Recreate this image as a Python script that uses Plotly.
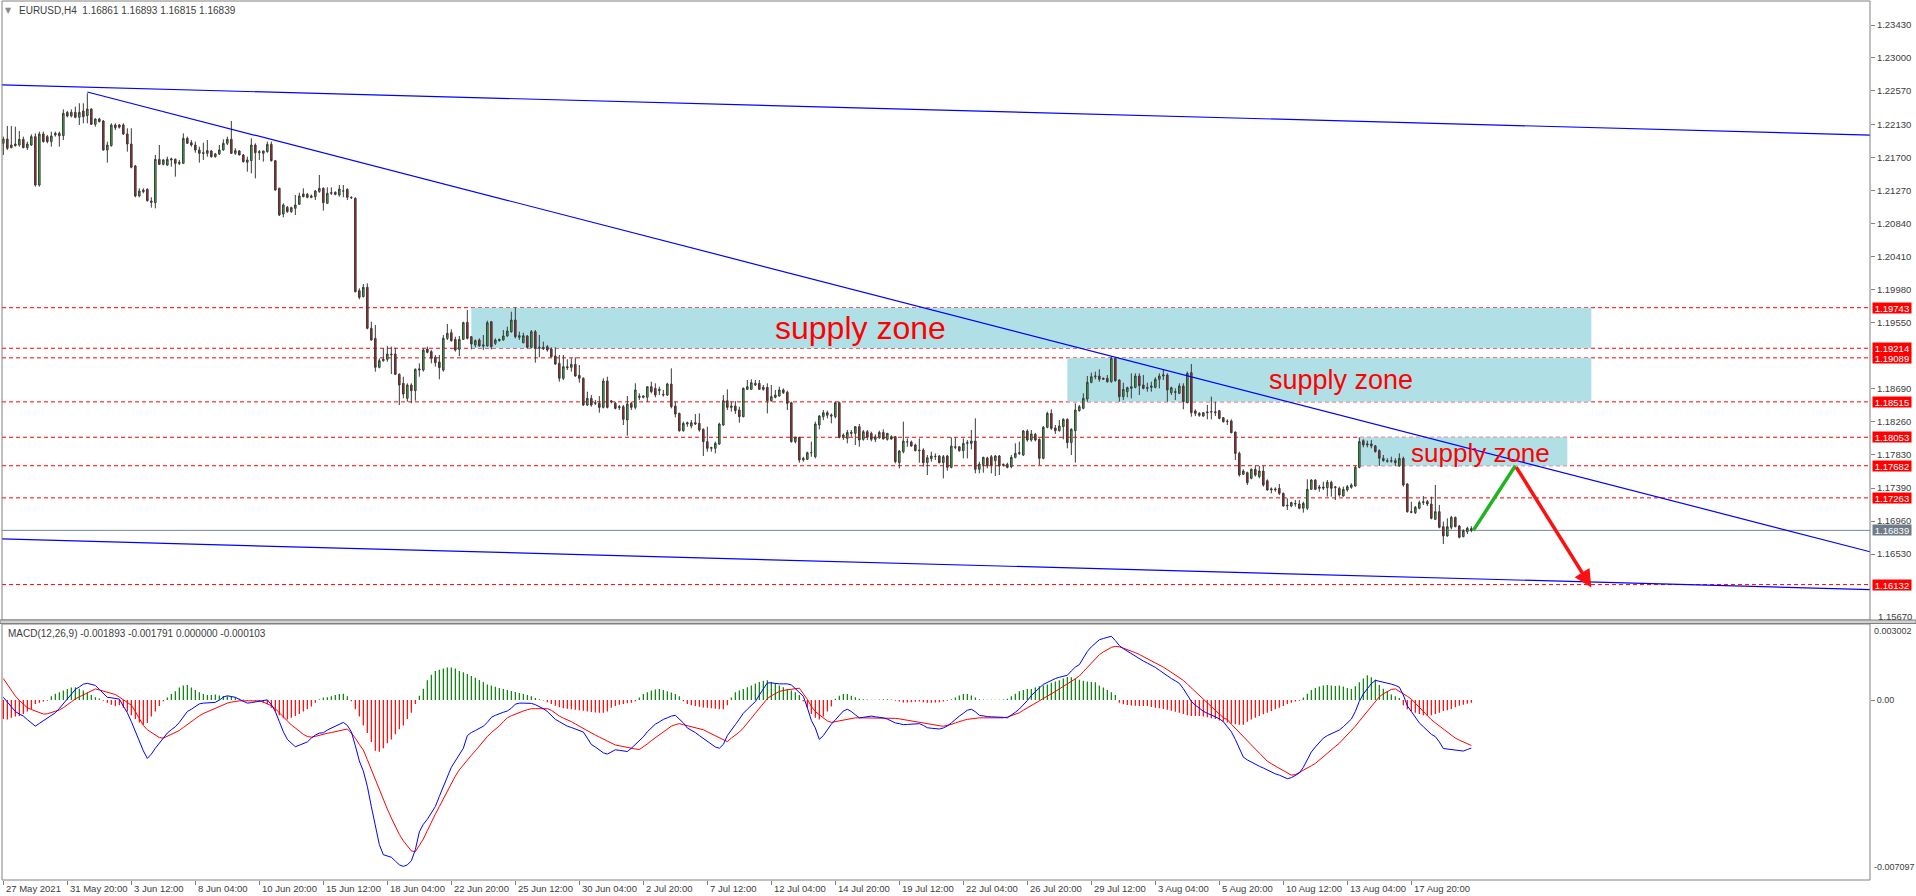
import plotly.graph_objects as go

# ---------------- data ----------------
opens = [
1.21887,1.21943,1.21830,1.21878,1.21865,1.21939,1.21830,1.21865,1.21974,1.21343,
1.22009,1.21974,1.21909,1.22017,1.21983,1.21987,1.22291,1.22243,1.22291,1.22226,
1.22309,1.22248,1.22335,1.22135,1.22204,1.22178,1.21800,1.21857,1.22126,1.22126,
1.22126,1.22009,1.21878,1.21591,1.21200,1.21278,1.21287,1.21135,1.21113,1.21678,
1.21613,1.21604,1.21670,1.21678,1.21639,1.21626,1.21952,1.21896,1.21865,1.21800,
1.21765,1.21756,1.21787,1.21713,1.21748,1.21800,1.21887,1.21939,1.21756,1.21787,
1.21735,1.21639,1.21661,1.21865,1.21765,1.21756,1.21778,1.21874,1.21661,1.21300,
1.20965,1.21052,1.20996,1.21039,1.21091,1.21226,1.21222,1.21200,1.21191,1.21257,
1.21300,1.21104,1.21235,1.21248,1.21213,1.21265,1.21287,1.21183,1.21170,1.19965,
1.19887,1.20009,1.19474,1.19343,1.18965,1.19052,1.19070,1.19139,1.19139,1.18874,
1.18757,1.18561,1.18735,1.18661,1.18930,1.18930,1.19204,1.19170,1.19096,1.19035,
1.18930,1.19343,1.19417,1.19330,1.19200,1.19330,1.19552,1.19365,1.19257,1.19322,
1.19243,1.19243,1.19561,1.19278,1.19313,1.19322,1.19374,1.19430,1.19583,1.19357,
1.19287,1.19374,1.19226,1.19430,1.19213,1.19226,1.19235,1.19204,1.19113,1.19017,
1.18822,1.18974,1.18965,1.19004,1.18861,1.18822,1.18474,1.18561,1.18496,1.18496,
1.18443,1.18787,1.18513,1.18496,1.18439,1.18452,1.18278,1.18496,1.18443,1.18591,
1.18574,1.18574,1.18713,1.18691,1.18661,1.18604,1.18604,1.18748,1.18461,1.18365,
1.18139,1.18226,1.18200,1.18243,1.18235,1.18157,1.17996,1.17909,1.17909,1.17965,
1.18213,1.18530,1.18443,1.18461,1.18409,1.18322,1.18678,1.18678,1.18735,1.18757,
1.18704,1.18704,1.18530,1.18574,1.18591,1.18670,1.18640,1.18504,1.17996,1.18052,
1.17757,1.17765,1.17852,1.17800,1.18213,1.18322,1.18340,1.18343,1.18322,1.18504,
1.18061,1.18039,1.18104,1.18104,1.18191,1.18026,1.18126,1.18104,1.18026,1.18060,
1.18117,1.18026,1.18061,1.18061,1.17722,1.17865,1.17992,1.17992,1.17952,1.17887,
1.17887,1.17722,1.17774,1.17800,1.17809,1.17722,1.17809,1.17661,1.17930,1.17930,
1.17878,1.17974,1.17974,1.18004,1.17635,1.17696,1.17783,1.17800,1.17748,1.17809,
1.17687,1.17700,1.17670,1.17791,1.17843,1.17822,1.18135,1.18017,1.18091,1.18026,
1.17778,1.18183,1.18365,1.18175,1.18139,1.18191,1.18287,1.17983,1.18139,1.18400,
1.18431,1.18552,1.18770,1.18843,1.18852,1.18809,1.18822,1.18778,1.19083,1.18800,
1.18583,1.18648,1.18691,1.18704,1.18852,1.18735,1.18691,1.18704,1.18704,1.18809,
1.18852,1.18865,1.18635,1.18648,1.18626,1.18722,1.18504,1.18896,1.18396,1.18365,
1.18330,1.18374,1.18383,1.18387,1.18400,1.18309,1.18265,1.18265,1.18122,1.17844,
1.17570,1.17592,1.17518,1.17635,1.17540,1.17613,1.17487,1.17366,1.17380,1.17387,
1.17322,1.17157,1.17157,1.17192,1.17183,1.17127,1.17127,1.17374,1.17496,1.17387,
1.17405,1.17396,1.17466,1.17396,1.17387,1.17287,1.17366,1.17400,1.17418,1.17661,
1.18009,1.17953,1.17966,1.17940,1.17879,1.17779,1.17748,1.17740,1.17748,1.17679,
1.17779,1.17444,1.17083,1.17070,1.17127,1.17201,1.17214,1.17183,1.16983,1.17083,
1.16887,1.16766,1.16879,1.17009,1.16896,1.16757,1.16822,1.16861]

highs = [
1.21974,1.22113,1.22113,1.22104,1.22048,1.21974,1.21909,1.22004,1.22017,1.22039,
1.22039,1.21996,1.22039,1.22039,1.22039,1.22330,1.22309,1.22330,1.22365,1.22409,
1.22409,1.22539,1.22343,1.22213,1.22220,1.22191,1.21909,1.22148,1.22148,1.22140,
1.22148,1.22083,1.22083,1.21604,1.21300,1.21300,1.21300,1.21183,1.21735,1.21865,
1.21680,1.21713,1.21700,1.21690,1.21670,1.22017,1.21974,1.21930,1.21909,1.21843,
1.21896,1.21930,1.21800,1.21760,1.21865,1.21939,1.21974,1.22178,1.21822,1.21800,
1.21748,1.21713,1.21952,1.21887,1.21800,1.21791,1.21909,1.21909,1.21670,1.21309,
1.21104,1.21070,1.21060,1.21213,1.21243,1.21300,1.21240,1.21220,1.21278,1.21474,
1.21313,1.21313,1.21313,1.21260,1.21343,1.21343,1.21300,1.21195,1.21183,1.19996,
1.20052,1.20061,1.19561,1.19517,1.19083,1.19213,1.19243,1.19235,1.19220,1.18887,
1.18843,1.18757,1.18757,1.18952,1.19017,1.19213,1.19235,1.19191,1.19126,1.19126,
1.19387,1.19531,1.19461,1.19365,1.19374,1.19561,1.19713,1.19374,1.19330,1.19343,
1.19387,1.19574,1.19570,1.19343,1.19340,1.19452,1.19496,1.19691,1.19748,1.19430,
1.19417,1.19387,1.19452,1.19452,1.19387,1.19300,1.19257,1.19226,1.19226,1.19126,
1.19126,1.19070,1.19083,1.19096,1.18996,1.18835,1.18648,1.18604,1.18539,1.18591,
1.18822,1.18843,1.18539,1.18517,1.18474,1.18474,1.18591,1.18517,1.18757,1.18626,
1.18600,1.18713,1.18778,1.18757,1.18713,1.18670,1.18765,1.18952,1.18517,1.18374,
1.18257,1.18257,1.18278,1.18357,1.18365,1.18170,1.18191,1.17930,1.17996,1.18243,
1.18604,1.18678,1.18517,1.18526,1.18452,1.18704,1.18800,1.18809,1.18800,1.18800,
1.18735,1.18757,1.18735,1.18670,1.18713,1.18691,1.18661,1.18517,1.18061,1.18061,
1.17800,1.17865,1.17996,1.18257,1.18343,1.18409,1.18400,1.18365,1.18517,1.18517,
1.18104,1.18148,1.18148,1.18200,1.18226,1.18148,1.18148,1.18126,1.18090,1.18140,
1.18157,1.18110,1.18080,1.18070,1.17887,1.18257,1.18039,1.18010,1.17970,1.18039,
1.17909,1.17822,1.17865,1.17843,1.17822,1.17822,1.17822,1.18052,1.18052,1.17939,
1.18039,1.18017,1.18148,1.18300,1.17735,1.17800,1.17800,1.17822,1.17822,1.17822,
1.17710,1.17722,1.17822,1.17974,1.17996,1.18148,1.18157,1.18148,1.18110,1.18039,
1.18200,1.18387,1.18418,1.18213,1.18278,1.18300,1.18300,1.18170,1.18496,1.18474,
1.18626,1.18852,1.18896,1.18909,1.18939,1.18830,1.18865,1.19105,1.19096,1.18809,
1.18765,1.18713,1.18887,1.18887,1.18887,1.18865,1.18765,1.18778,1.18835,1.18887,
1.18939,1.18887,1.18713,1.18691,1.18757,1.18757,1.18909,1.19009,1.18418,1.18380,
1.18380,1.18474,1.18583,1.18517,1.18409,1.18313,1.18287,1.18287,1.18126,1.17866,
1.17635,1.17605,1.17648,1.17679,1.17679,1.17679,1.17505,1.17400,1.17400,1.17444,
1.17331,1.17257,1.17214,1.17235,1.17235,1.17214,1.17505,1.17505,1.17505,1.17431,
1.17474,1.17496,1.17487,1.17418,1.17409,1.17409,1.17431,1.17453,1.17679,1.18053,
1.18027,1.18009,1.18018,1.17953,1.17896,1.17822,1.17779,1.17800,1.17779,1.17844,
1.17800,1.17453,1.17214,1.17157,1.17227,1.17287,1.17235,1.17279,1.17431,1.17170,
1.16953,1.16996,1.17027,1.17018,1.16909,1.16853,1.16887,1.16893]

lows = [
1.21735,1.21800,1.21822,1.21843,1.21843,1.21822,1.21800,1.21852,1.21322,1.21322,
1.21896,1.21887,1.21843,1.21974,1.21843,1.21930,1.22226,1.22226,1.22213,1.22126,
1.22148,1.22148,1.22126,1.22104,1.22160,1.21791,1.21635,1.21843,1.22061,1.22080,
1.21996,1.21778,1.21561,1.21183,1.21183,1.21235,1.21126,1.21048,1.21039,1.21604,
1.21600,1.21591,1.21583,1.21452,1.21604,1.21617,1.21878,1.21843,1.21765,1.21635,
1.21670,1.21713,1.21700,1.21700,1.21735,1.21791,1.21865,1.21748,1.21735,1.21730,
1.21635,1.21517,1.21496,1.21430,1.21670,1.21648,1.21765,1.21648,1.21270,1.20939,
1.20922,1.20980,1.20980,1.20952,1.21083,1.21183,1.21170,1.21170,1.21148,1.21243,
1.21009,1.21096,1.21213,1.21210,1.21191,1.21183,1.21148,1.21160,1.19943,1.19852,
1.19878,1.19461,1.19313,1.18909,1.18952,1.19039,1.19039,1.18878,1.18865,1.18474,
1.18561,1.18517,1.18496,1.18530,1.18843,1.18909,1.19148,1.19017,1.18974,1.18809,
1.18909,1.19322,1.19300,1.19170,1.19113,1.19322,1.19330,1.19200,1.19226,1.19235,
1.19191,1.19235,1.19200,1.19257,1.19300,1.19313,1.19365,1.19417,1.19343,1.19322,
1.19278,1.19213,1.19213,1.19026,1.19096,1.19191,1.19170,1.19096,1.18996,1.18778,
1.18800,1.18930,1.18909,1.18843,1.18765,1.18461,1.18461,1.18452,1.18474,1.18374,
1.18430,1.18430,1.18496,1.18417,1.18409,1.18213,1.18074,1.18409,1.18417,1.18539,
1.18560,1.18517,1.18626,1.18574,1.18604,1.18583,1.18591,1.18430,1.18313,1.18126,
1.18126,1.18191,1.18170,1.18213,1.18126,1.17809,1.17865,1.17865,1.17843,1.17952,
1.18200,1.18409,1.18387,1.18357,1.18243,1.18313,1.18670,1.18670,1.18722,1.18670,
1.18661,1.18365,1.18517,1.18561,1.18583,1.18617,1.18409,1.17983,1.17974,1.17722,
1.17735,1.17757,1.17800,1.17778,1.18157,1.18278,1.18300,1.18235,1.18300,1.18039,
1.18017,1.17974,1.18061,1.17952,1.17930,1.18009,1.18017,1.18000,1.17990,1.18030,
1.18026,1.18010,1.18020,1.17713,1.17648,1.17843,1.17930,1.17930,1.17870,1.17722,
1.17670,1.17561,1.17735,1.17757,1.17713,1.17517,1.17617,1.17648,1.17896,1.17865,
1.17778,1.17778,1.17896,1.17583,1.17583,1.17591,1.17648,1.17583,1.17548,1.17561,
1.17670,1.17648,1.17648,1.17778,1.17822,1.17809,1.17996,1.17996,1.18000,1.17691,
1.17765,1.18170,1.18148,1.18096,1.18126,1.18026,1.17909,1.17822,1.17722,1.18387,
1.18418,1.18517,1.18757,1.18809,1.18778,1.18800,1.18765,1.18765,1.18778,1.18517,
1.18539,1.18574,1.18561,1.18691,1.18604,1.18678,1.18648,1.18648,1.18691,1.18691,
1.18800,1.18517,1.18604,1.18539,1.18617,1.18418,1.18496,1.18322,1.18330,1.18320,
1.18320,1.18287,1.18287,1.18330,1.18287,1.18244,1.18213,1.18104,1.17757,1.17540,
1.17561,1.17431,1.17505,1.17540,1.17518,1.17409,1.17357,1.17322,1.17344,1.17300,
1.17148,1.17105,1.17140,1.17148,1.17114,1.17070,1.17105,1.17366,1.17366,1.17344,
1.17366,1.17279,1.17279,1.17235,1.17279,1.17279,1.17344,1.17383,1.17409,1.17648,
1.17922,1.17922,1.17909,1.17853,1.17679,1.17735,1.17722,1.17722,1.17679,1.17670,
1.17409,1.17070,1.17062,1.17053,1.17114,1.17170,1.17157,1.16983,1.16974,1.16866,
1.16661,1.16757,1.16853,1.16879,1.16735,1.16748,1.16792,1.16815]

closes = [
1.21943,1.21822,1.21865,1.21857,1.21939,1.21830,1.21878,1.21974,1.21343,1.22009,
1.21909,1.21909,1.21983,1.21996,1.22017,1.22278,1.22243,1.22291,1.22226,1.22291,
1.22235,1.22335,1.22135,1.22204,1.22170,1.21800,1.21865,1.22126,1.22091,1.22096,
1.22009,1.21878,1.21574,1.21200,1.21265,1.21257,1.21139,1.21117,1.21678,1.21613,
1.21670,1.21678,1.21683,1.21626,1.21626,1.21952,1.21887,1.21865,1.21800,1.21756,
1.21756,1.21791,1.21713,1.21748,1.21800,1.21887,1.21939,1.21756,1.21791,1.21735,
1.21648,1.21670,1.21865,1.21765,1.21778,1.21787,1.21874,1.21661,1.21278,1.20952,
1.21083,1.20996,1.21048,1.21083,1.21200,1.21191,1.21183,1.21183,1.21265,1.21300,
1.21113,1.21235,1.21243,1.21222,1.21291,1.21265,1.21183,1.21178,1.19952,1.19878,
1.20009,1.19474,1.19322,1.18965,1.19052,1.19070,1.19139,1.19130,1.18874,1.18735,
1.18617,1.18735,1.18661,1.18939,1.18943,1.19191,1.19161,1.19083,1.19026,1.18961,
1.19343,1.19409,1.19313,1.19191,1.19330,1.19548,1.19343,1.19270,1.19313,1.19243,
1.19257,1.19548,1.19235,1.19322,1.19330,1.19374,1.19439,1.19583,1.19365,1.19378,
1.19378,1.19226,1.19430,1.19213,1.19226,1.19213,1.19191,1.19104,1.19009,1.18822,
1.18974,1.18961,1.19004,1.18852,1.18822,1.18474,1.18561,1.18474,1.18504,1.18443,
1.18787,1.18443,1.18526,1.18430,1.18452,1.18287,1.18487,1.18443,1.18670,1.18574,
1.18591,1.18713,1.18648,1.18604,1.18678,1.18612,1.18748,1.18452,1.18357,1.18139,
1.18235,1.18243,1.18243,1.18226,1.18148,1.17996,1.17909,1.17918,1.17974,1.18226,
1.18530,1.18443,1.18461,1.18400,1.18322,1.18691,1.18713,1.18765,1.18757,1.18678,
1.18678,1.18530,1.18583,1.18604,1.18670,1.18635,1.18496,1.17996,1.18052,1.17757,
1.17778,1.17852,1.17852,1.18226,1.18330,1.18374,1.18374,1.18330,1.18504,1.18052,
1.18083,1.18117,1.18117,1.18191,1.18017,1.18126,1.18052,1.18026,1.18060,1.18117,
1.18031,1.18104,1.18031,1.17735,1.17874,1.18004,1.17992,1.17939,1.17878,1.17878,
1.17722,1.17787,1.17809,1.17805,1.17722,1.17800,1.17661,1.17939,1.17922,1.17878,
1.17974,1.17983,1.18004,1.17635,1.17704,1.17791,1.17678,1.17691,1.17809,1.17678,
1.17700,1.17661,1.17791,1.17843,1.17852,1.18135,1.18017,1.18096,1.18017,1.17778,
1.18183,1.18365,1.18170,1.18139,1.18200,1.18287,1.17983,1.18157,1.18409,1.18452,
1.18561,1.18770,1.18843,1.18852,1.18809,1.18822,1.18778,1.19083,1.18791,1.18583,
1.18678,1.18700,1.18713,1.18852,1.18726,1.18691,1.18700,1.18722,1.18809,1.18852,
1.18865,1.18670,1.18700,1.18640,1.18722,1.18517,1.18887,1.18374,1.18365,1.18340,
1.18374,1.18383,1.18387,1.18374,1.18300,1.18257,1.18260,1.18113,1.17843,1.17561,
1.17613,1.17461,1.17635,1.17561,1.17613,1.17431,1.17366,1.17380,1.17370,1.17322,
1.17157,1.17165,1.17201,1.17185,1.17127,1.17192,1.17374,1.17496,1.17374,1.17405,
1.17390,1.17466,1.17387,1.17405,1.17300,1.17374,1.17409,1.17431,1.17661,1.17996,
1.17953,1.17966,1.17940,1.17866,1.17779,1.17748,1.17740,1.17748,1.17722,1.17779,
1.17431,1.17083,1.17075,1.17140,1.17201,1.17210,1.17183,1.16996,1.17083,1.16879,
1.16766,1.16887,1.17009,1.16887,1.16748,1.16835,1.16866,1.16839]

# MACD(12,26,9) values, in units of 0.0001
macd_main_e4 = [
1.1,-0.7,-2.5,-4.5,-5.5,-6.3,-7.7,-9.0,-10.3,-9.2,
-8.1,-6.9,-5.8,-5.0,-3.3,-1.5,0.5,2.2,4.2,5.2,
6.3,6.6,6.2,5.8,4.2,2.6,1.1,0.9,0.6,0.4,
-2.4,-5.0,-8.5,-12.5,-16.5,-20.0,-23.0,-21.3,-19.0,-17.0,
-15.0,-13.0,-11.7,-10.5,-8.8,-6.5,-4.5,-3.6,-2.7,-1.5,
-1.2,-1.1,-1.0,-0.9,0.0,1.2,1.7,1.5,1.1,0.3,
-0.6,-1.2,-1.0,-0.7,-0.4,-0.1,0.1,-1.8,-4.5,-8.5,
-12.5,-15.5,-17.0,-18.4,-17.8,-17.0,-16.5,-15.0,-13.8,-13.0,
-12.9,-11.8,-11.0,-10.1,-9.5,-8.8,-10.0,-12.5,-18.0,-24.0,
-28.0,-34.0,-42.0,-49.0,-57.0,-61.0,-61.5,-62.0,-63.5,-65.0,
-65.6,-65.0,-63.4,-59.0,-52.0,-49.0,-47.0,-44.5,-42.0,-38.0,
-34.0,-30.0,-26.5,-24.0,-21.5,-19.0,-14.0,-12.8,-12.0,-11.0,
-10.3,-8.8,-6.8,-6.0,-5.3,-4.8,-4.3,-3.2,-1.6,-1.2,
-1.2,-1.2,-1.3,-1.8,-2.5,-3.4,-4.5,-6.0,-7.6,-8.5,
-9.4,-10.3,-10.8,-11.4,-11.9,-12.6,-15.0,-17.5,-18.5,-19.8,
-20.8,-21.3,-20.5,-19.6,-19.8,-20.2,-20.3,-19.0,-17.6,-16.2,
-14.5,-12.5,-10.8,-9.5,-8.6,-7.6,-7.0,-6.3,-6.0,-7.5,
-9.0,-11.0,-11.8,-12.8,-14.0,-15.2,-16.4,-17.5,-18.5,-19.0,
-17.5,-14.0,-12.0,-9.7,-7.5,-5.2,-3.6,-2.2,-0.6,2.0,
4.4,6.8,6.8,6.5,6.4,6.4,6.4,6.0,4.5,3.0,
1.5,-3.0,-8.0,-11.0,-15.5,-14.0,-11.5,-9.5,-7.8,-6.0,
-4.3,-3.6,-4.5,-5.8,-7.0,-6.8,-6.5,-6.3,-6.6,-6.8,
-7.0,-7.5,-8.3,-9.0,-9.3,-9.7,-9.6,-9.5,-9.4,-9.3,
-10.0,-10.9,-11.1,-11.3,-11.4,-11.0,-10.2,-9.0,-7.6,-6.3,
-5.2,-4.0,-3.6,-4.6,-6.0,-6.4,-6.5,-6.6,-6.6,-6.7,
-6.8,-7.0,-6.0,-4.8,-3.5,-2.0,-0.2,1.8,3.5,4.8,
6.2,7.0,7.8,8.5,9.0,9.5,9.8,11.5,13.0,14.0,
16.5,19.2,21.0,22.5,23.8,24.3,24.8,25.2,23.5,21.5,
20.3,19.3,18.2,17.2,16.3,15.4,14.6,13.8,12.9,11.8,
10.6,9.4,8.5,7.6,6.6,4.5,2.1,-0.5,-2.0,-3.2,
-4.4,-5.2,-5.8,-6.6,-7.4,-8.5,-10.5,-12.5,-15.5,-19.0,
-22.5,-23.6,-24.5,-25.3,-26.1,-26.8,-27.6,-28.4,-29.1,-29.6,
-30.2,-31.0,-30.6,-29.8,-28.8,-26.5,-23.5,-20.5,-18.5,-16.8,
-15.0,-14.0,-13.3,-12.5,-11.8,-10.5,-9.0,-7.5,-4.5,-0.5,
2.4,4.5,6.5,7.8,7.5,7.0,6.7,6.3,5.8,5.1,
2.0,-2.3,-4.5,-6.8,-9.0,-10.5,-12.0,-13.5,-14.4,-16.5,
-19.1,-19.3,-19.5,-19.6,-20.0,-20.1,-19.5,-18.93]

macd_signal_e4 = [
8.5,6.2,3.9,1.6,-0.1,-1.6,-3.0,-3.7,-4.4,-5.0,
-5.5,-5.4,-4.9,-4.4,-3.9,-3.0,-2.0,-0.7,0.5,1.3,
2.2,3.0,3.8,4.4,4.0,3.6,3.2,2.8,2.2,1.2,
0.2,-0.9,-2.0,-4.5,-7.5,-10.0,-11.7,-12.8,-13.8,-14.8,
-15.0,-14.3,-13.5,-12.8,-12.0,-10.8,-9.6,-8.4,-7.2,-6.2,
-5.3,-4.6,-3.8,-3.0,-2.4,-1.8,-1.2,-0.8,-0.4,-0.3,
-0.3,-0.3,-0.3,-0.3,-0.3,-0.8,-1.4,-2.2,-3.4,-5.0,
-6.7,-8.3,-9.8,-11.0,-12.3,-13.5,-14.4,-14.6,-14.3,-14.0,
-13.6,-13.1,-12.8,-12.4,-12.1,-11.7,-11.4,-13.0,-15.0,-17.5,
-19.7,-23.5,-27.5,-31.5,-35.5,-39.5,-43.0,-46.5,-50.0,-53.0,
-55.5,-57.5,-59.5,-59.8,-57.5,-54.8,-51.5,-48.0,-45.0,-42.0,
-39.0,-36.0,-32.5,-30.0,-27.5,-25.5,-23.8,-21.8,-20.0,-18.0,
-16.2,-14.4,-12.8,-11.5,-10.2,-8.5,-7.0,-6.2,-5.5,-4.9,
-4.3,-3.8,-3.4,-3.4,-3.4,-3.4,-3.4,-4.0,-5.3,-6.3,
-7.1,-7.7,-8.5,-9.4,-10.3,-11.2,-12.3,-13.0,-13.8,-14.6,
-15.4,-16.2,-16.9,-17.7,-18.0,-18.4,-18.7,-19.0,-19.3,-19.5,
-18.5,-17.3,-16.0,-14.8,-13.6,-12.4,-11.2,-10.3,-9.7,-9.3,
-9.7,-10.1,-10.5,-11.0,-11.4,-11.7,-12.5,-13.3,-14.0,-14.8,
-15.6,-16.4,-15.0,-13.8,-12.6,-11.0,-9.0,-7.0,-5.0,-3.0,
-1.0,0.6,1.7,2.7,3.4,3.8,4.1,4.3,4.5,4.7,
2.5,0.3,-2.5,-4.5,-5.8,-7.0,-8.2,-8.8,-8.5,-8.1,
-7.7,-7.4,-7.0,-7.0,-7.0,-7.0,-7.0,-7.0,-7.0,-7.0,
-7.0,-7.0,-7.0,-7.2,-7.4,-7.7,-7.9,-8.2,-8.5,-8.7,
-9.0,-9.3,-9.5,-9.8,-10.1,-10.3,-10.0,-9.6,-9.0,-8.4,
-8.0,-7.6,-7.3,-7.0,-7.0,-7.0,-7.0,-7.0,-7.0,-7.0,
-7.0,-6.7,-6.1,-5.6,-5.0,-4.0,-3.1,-2.0,-1.2,-0.4,
0.4,1.4,2.4,3.4,4.4,5.5,6.4,7.4,8.4,9.5,
11.2,12.8,14.5,16.1,17.9,19.0,20.0,20.8,21.2,21.0,
20.5,20.0,19.2,18.7,18.0,17.2,16.5,15.7,14.8,14.0,
13.0,12.0,11.0,10.0,9.0,7.8,6.3,4.8,3.2,1.6,
0.4,-1.0,-2.5,-4.0,-5.5,-6.9,-7.7,-9.5,-11.2,-12.9,
-14.5,-15.9,-17.6,-19.3,-20.9,-22.6,-24.1,-25.1,-26.0,-27.0,
-28.0,-28.9,-29.6,-29.4,-28.6,-27.7,-26.8,-25.9,-25.0,-23.6,
-22.3,-21.0,-19.6,-18.3,-17.0,-15.4,-13.7,-12.0,-10.3,-8.3,
-6.3,-4.3,-2.3,-0.3,1.3,2.5,3.4,4.2,4.4,3.5,
2.5,1.5,0.4,-1.3,-2.9,-4.5,-6.1,-7.7,-9.0,-10.2,
-11.5,-12.8,-14.0,-15.0,-15.8,-16.5,-17.2,-17.91]

macd_hist_e4 = [
-7.5,-7.7,-7.0,-6.5,-6.3,-5.5,-4.5,-3.5,-1.5,-1.0,
-0.6,-0.3,1.5,2.5,3.1,3.8,4.4,5.0,5.1,4.5,
3.8,3.0,2.0,1.1,0.6,-0.3,-1.0,-1.8,-2.3,-2.0,
-3.0,-4.5,-6.0,-7.5,-8.8,-9.7,-9.0,-6.5,-4.5,-2.3,
-0.5,1.0,2.4,3.5,5.0,5.8,6.0,5.0,4.0,3.1,
2.4,2.0,2.0,2.2,1.8,1.6,1.5,1.2,1.1,0.5,
0.2,-0.3,-0.3,-0.3,-0.5,-1.0,-1.5,-3.0,-4.5,-6.0,
-7.2,-7.7,-7.0,-6.3,-5.5,-4.5,-3.5,-2.5,-1.0,0.3,
1.0,1.1,1.5,2.0,2.4,2.5,1.5,-0.5,-3.6,-6.5,
-10.0,-13.0,-16.5,-20.0,-20.4,-19.0,-17.0,-15.5,-13.5,-11.5,
-10.0,-7.5,-5.0,-1.5,1.7,4.5,7.8,10.0,11.5,12.0,
12.5,12.9,12.9,12.5,11.5,11.0,10.3,9.5,8.8,7.9,
7.1,6.2,5.8,5.3,4.8,4.4,4.0,3.6,3.2,2.8,
2.4,2.0,1.5,0.8,0.3,-0.2,-0.8,-1.5,-2.2,-2.8,
-3.2,-3.4,-3.6,-3.8,-4.0,-4.2,-4.5,-4.7,-4.9,-5.0,
-5.0,-4.5,-3.0,-2.3,-1.8,-1.5,-1.2,-1.0,-0.5,1.0,
2.4,3.1,3.8,4.2,4.4,4.0,3.5,3.0,2.4,1.5,
-0.5,-1.5,-2.0,-2.3,-2.6,-2.9,-3.0,-3.2,-3.4,-3.6,
-3.6,-2.0,1.0,3.1,3.8,4.4,5.1,5.8,6.5,7.1,
7.6,7.8,7.1,6.4,5.8,5.1,4.4,3.8,3.1,2.0,
-0.5,-3.0,-5.5,-7.0,-7.7,-6.5,-4.5,-2.5,0.5,1.7,
2.4,2.4,1.7,1.1,0.5,0.3,0.2,0.1,0.1,0.2,
0.3,0.3,0.2,-0.3,-0.6,-0.9,-0.9,-0.8,-0.7,-0.6,
-0.8,-1.0,-1.0,-0.9,-0.8,-0.6,-0.3,0.3,1.0,1.8,
2.4,2.4,1.8,1.0,0.3,0.2,0.1,0.1,0.1,0.1,
0.2,0.5,1.5,2.5,3.5,4.0,4.4,4.4,5.0,5.5,
5.8,6.2,6.8,7.3,7.8,8.5,9.1,9.0,8.5,8.0,
7.6,7.3,7.1,7.0,5.8,5.0,4.0,3.1,2.0,-1.0,
-1.6,-1.9,-2.1,-2.2,-2.3,-2.3,-2.3,-2.7,-3.0,-3.2,
-3.5,-3.8,-4.2,-4.6,-5.0,-5.5,-6.0,-6.3,-6.3,-6.3,
-6.5,-6.8,-7.2,-7.5,-8.0,-8.4,-8.8,-9.2,-9.5,-9.7,
-9.7,-8.5,-7.7,-7.0,-6.3,-5.6,-5.0,-4.3,-3.6,-3.0,
-2.3,-1.5,-1.0,-0.6,-0.3,1.0,2.5,4.0,4.8,5.4,
5.8,6.0,5.8,5.6,5.8,5.4,4.8,4.4,5.5,7.0,
8.5,9.8,9.0,8.0,6.0,4.5,3.3,2.2,1.5,0.8,
-2.0,-3.6,-4.5,-5.0,-5.5,-6.0,-6.3,-6.0,-5.5,-5.0,
-4.3,-4.0,-3.6,-2.8,-2.2,-1.8,-1.4,-1.03]

n_bars = len(closes)
for arr in (opens, highs, lows, macd_main_e4, macd_signal_e4, macd_hist_e4):
    assert len(arr) == n_bars, len(arr)

bars = list(range(n_bars))
macd_main = [v * 1e-4 for v in macd_main_e4]
macd_signal = [v * 1e-4 for v in macd_signal_e4]
macd_hist = [v * 1e-4 for v in macd_hist_e4]

tick_bars = list(range(0, 353, 16))
tick_labels = ["27 May 2021", "31 May 20:00", "3 Jun 12:00", "8 Jun 04:00", "10 Jun 20:00",
               "15 Jun 12:00", "18 Jun 04:00", "22 Jun 20:00", "25 Jun 12:00", "30 Jun 04:00",
               "2 Jul 20:00", "7 Jul 12:00", "12 Jul 04:00", "14 Jul 20:00", "19 Jul 12:00",
               "22 Jul 04:00", "26 Jul 20:00", "29 Jul 12:00", "3 Aug 04:00", "5 Aug 20:00",
               "10 Aug 12:00", "13 Aug 04:00", "17 Aug 20:00"]

price_ticks = [1.23430, 1.23000, 1.22570, 1.22130, 1.21700, 1.21270, 1.20840, 1.20410,
               1.19980, 1.19550, 1.18690, 1.18260, 1.17830, 1.17390, 1.16960, 1.16530, 1.15670]
level_prices = [1.19743, 1.19089, 1.19214, 1.18515, 1.18053, 1.17682, 1.17263, 1.16132]
current_price = 1.16839

zone_start_bar = [117, 266, 339]
zone_end_bar = [397, 397, 391]
zone_low = [1.19214, 1.18515, 1.17682]
zone_high = [1.19743, 1.19089, 1.18053]
zone_text_bar = [192.3, 316, 351.5]
zone_text_price = [1.19478, 1.18800, 1.17850]
zone_text = ["supply zone", "supply zone", "supply zone"]

upper_channel_bars = [-0.34, 466.67]
upper_channel_prices = [1.22648, 1.21995]
trend_bars = [21, 466.67]
trend_prices = [1.22556, 1.16560]
lower_channel_bars = [-0.34, 466.67]
lower_channel_prices = [1.16727, 1.16067]

arrow_bars = [367.5, 378, 397]
arrow_prices = [1.16839, 1.17682, 1.16095]

header_text = "EURUSD,H4  1.16861 1.16893 1.16815 1.16839"
macd_header = "MACD(12,26,9) -0.001893 -0.001791 0.000000 -0.000103"
macd_top_label, macd_bottom_label = 0.003002, -0.007097

# ---------------- geometry & style ----------------
W, H = 1916, 896
ML, MR, MT, MB = 2, 46, 1, 16
PW, PH = W - ML - MR, H - MT - MB


def py(y):  # pixel row -> paper y
    return (H - MB - y) / PH


def px(x):  # pixel column -> paper x
    return (x - ML) / PW


XR = [-0.333, 466.667]
PRICE_RANGE = [1.15670, 1.23743]
FRAME = "#808080"
TXT = "#3c3c3c"
FONT = "Liberation Sans"
BULL, BEAR, WICK = "#32cd32", "#d41c1c", "#3a3a3a"
BID = "#778899"

fig = go.Figure()

fig.add_trace(go.Candlestick(
    x=bars, open=opens, high=highs, low=lows, close=closes,
    increasing=dict(fillcolor=BULL, line=dict(color=WICK, width=1)),
    decreasing=dict(fillcolor=BEAR, line=dict(color=WICK, width=1)),
    whiskerwidth=0, xaxis="x", yaxis="y", hoverinfo="skip", showlegend=False))

for bx, pr in ((upper_channel_bars, upper_channel_prices),
               (trend_bars, trend_prices),
               (lower_channel_bars, lower_channel_prices)):
    fig.add_trace(go.Scatter(x=bx, y=pr, mode="lines", line=dict(color="#0000ff", width=1.2),
                             xaxis="x", yaxis="y", hoverinfo="skip", showlegend=False))

fig.add_trace(go.Scatter(x=arrow_bars[:2], y=arrow_prices[:2], mode="lines",
                         line=dict(color="#22b322", width=3.5), xaxis="x", yaxis="y",
                         hoverinfo="skip", showlegend=False))

# MACD pane
fig.add_trace(go.Bar(x=bars, y=macd_hist, width=0.3,
                     marker=dict(color=["#008000" if v >= 0 else "#ff0000" for v in macd_hist],
                                 line=dict(width=0)),
                     xaxis="x2", yaxis="y2", hoverinfo="skip", showlegend=False))
fig.add_trace(go.Scatter(x=bars, y=macd_signal, mode="lines", line=dict(color="#ff0000", width=1),
                         xaxis="x2", yaxis="y2", hoverinfo="skip", showlegend=False))
fig.add_trace(go.Scatter(x=bars, y=macd_main, mode="lines", line=dict(color="#0000ff", width=1),
                         xaxis="x2", yaxis="y2", hoverinfo="skip", showlegend=False))

shapes = []
for x0, x1, lo, hi in zip(zone_start_bar, zone_end_bar, zone_low, zone_high):
    shapes.append(dict(type="rect", xref="x", yref="y", x0=x0, x1=x1, y0=lo, y1=hi,
                       fillcolor="#b0e0e6", line=dict(width=0), layer="below"))
for lv in level_prices:
    shapes.append(dict(type="line", xref="paper", yref="y", x0=0, x1=1, y0=lv, y1=lv,
                       line=dict(color="#ff0000", width=1, dash="4px,3px"), layer="below"))
shapes.append(dict(type="line", xref="paper", yref="y", x0=0, x1=1, y0=current_price, y1=current_price,
                   line=dict(color=BID, width=1), layer="below"))
# pane frames
shapes.append(dict(type="rect", xref="paper", yref="paper", x0=0, x1=1, y0=py(620), y1=1,
                   line=dict(color=FRAME, width=1), fillcolor="rgba(0,0,0,0)"))
shapes.append(dict(type="rect", xref="paper", yref="paper", x0=0, x1=1, y0=0, y1=py(624),
                   line=dict(color=FRAME, width=1), fillcolor="rgba(0,0,0,0)"))
shapes.append(dict(type="rect", xref="paper", yref="paper", x0=px(0), x1=px(W), y0=py(623.5), y1=py(620),
                   line=dict(color=FRAME, width=1), fillcolor="#d0d0d0"))

ann = []
ann.append(dict(xref="paper", yref="paper", x=px(3), y=py(11), xanchor="left", yanchor="middle",
                text="▼", showarrow=False, font=dict(family="DejaVu Sans", size=8, color="#8c8c8c")))
ann.append(dict(xref="paper", yref="paper", x=px(17), y=py(11), xanchor="left", yanchor="middle",
                text=header_text, showarrow=False, font=dict(family=FONT, size=10, color=TXT)))
ann.append(dict(xref="paper", yref="paper", x=px(6), y=py(633), xanchor="left", yanchor="middle",
                text=macd_header, showarrow=False, font=dict(family=FONT, size=10, color=TXT)))
for txt, tb, tp, fs in zip(zone_text, zone_text_bar, zone_text_price, [32, 27, 26]):
    ann.append(dict(xref="x", yref="y", x=tb, y=tp, xanchor="left", yanchor="middle",
                    text=txt, showarrow=False, font=dict(family=FONT, size=fs, color="#ff0000")))
for lv in level_prices:
    ann.append(dict(xref="paper", yref="y", x=1, y=lv, xanchor="left", yanchor="middle", xshift=2,
                    text=f"{lv:.5f}", showarrow=False, bgcolor="#ff0000", borderpad=0, width=38, height=10,
                    font=dict(family=FONT, size=9.5, color="#ffffff")))
ann.append(dict(xref="paper", yref="y", x=1, y=current_price, xanchor="left", yanchor="middle", xshift=2,
                text=f"{current_price:.5f}", showarrow=False, bgcolor="#6f7b87", borderpad=0, width=38, height=10,
                font=dict(family=FONT, size=9.5, color="#ffffff")))
# bottom price-scale label sits just above the pane separator
ann.append(dict(xref="paper", yref="y", x=1, y=price_ticks[-1], xanchor="left", yanchor="middle",
                xshift=6, yshift=4, text=f"{price_ticks[-1]:.5f}", showarrow=False,
                font=dict(family=FONT, size=9.5, color=TXT)))
ann.append(dict(xref="paper", yref="y2", x=1, y=macd_top_label, xanchor="left", yanchor="top", xshift=2,
                text=f"{macd_top_label:.6f}", showarrow=False, font=dict(family=FONT, size=9, color=TXT)))
ann.append(dict(xref="paper", yref="y2", x=1, y=macd_bottom_label, xanchor="left", yanchor="bottom",
                xshift=2, yshift=6, text=f"{macd_bottom_label:.6f}", showarrow=False,
                font=dict(family=FONT, size=9, color=TXT)))
for tb, tl in zip(tick_bars, tick_labels):
    ann.append(dict(xref="x2", yref="paper", x=tb, y=py(889), xanchor="left", yanchor="middle", xshift=1,
                    text=tl, showarrow=False, font=dict(family=FONT, size=9.5, color=TXT)))
# red arrow
ann.append(dict(xref="x", yref="y", axref="x", ayref="y", x=arrow_bars[2], y=arrow_prices[2],
                ax=arrow_bars[1], ay=arrow_prices[1], text="", showarrow=True, arrowhead=2,
                arrowsize=1, arrowwidth=3.5, arrowcolor="#ff1010"))

price_ticktext = [f"{v:.5f}" for v in price_ticks[:-1]] + [""]

axis_common = dict(showgrid=False, zeroline=False, fixedrange=True)
fig.update_layout(
    width=W, height=H, margin=dict(l=ML, r=MR, t=MT, b=MB),
    paper_bgcolor="white", plot_bgcolor="white", hovermode=False, showlegend=False,
    font=dict(family=FONT, size=9.5, color=TXT), boxgap=0.45,
    xaxis=dict(domain=[0, 1], range=XR, anchor="y", showticklabels=False, showline=False,
               rangeslider=dict(visible=False), **axis_common),
    xaxis2=dict(domain=[0, 1], range=XR, anchor="y2", showticklabels=False, showline=False,
                ticks="outside", tickvals=tick_bars, ticklen=4, tickcolor=FRAME, **axis_common),
    yaxis=dict(domain=[py(620), 1], range=PRICE_RANGE, anchor="x", side="right",
               tickvals=price_ticks, ticktext=price_ticktext,
               ticks="outside", ticklen=4, tickcolor=FRAME, showline=False,
               tickfont=dict(family=FONT, size=9.5, color=TXT), **axis_common),
    yaxis2=dict(domain=[0, py(624)], range=[macd_bottom_label, macd_top_label], anchor="x2", side="right",
                tickvals=[0], ticktext=["0.00"], ticks="outside", ticklen=4, tickcolor=FRAME, showline=False,
                tickfont=dict(family=FONT, size=9, color=TXT), **axis_common),
    shapes=shapes, annotations=ann)

fig.write_html("out.html", config={"displayModeBar": False, "staticPlot": True},
               post_script="document.body.style.margin='0';document.body.style.overflow='hidden';")
